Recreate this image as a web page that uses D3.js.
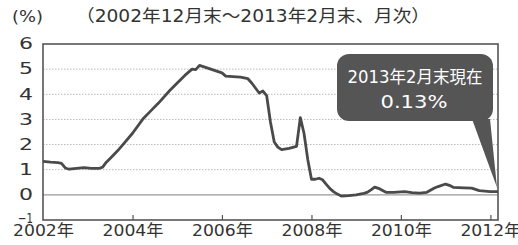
<!DOCTYPE html>
<html>
<head>
<meta charset="utf-8">
<script src="https://cdn.jsdelivr.net/npm/d3@7"></script>
<style>
  body { margin: 0; background: #fff; }
  svg { display: block; }
  text { font-family: "DejaVu Sans", "Noto Sans CJK JP", sans-serif; fill: #333; }
</style>
</head>
<body>
<div id="chart"></div>
<script>
// monthly readings (end of month), %
var dates = ["2002-12","2003-02","2003-04","2003-05","2003-06","2003-07","2003-09","2003-11",
  "2004-01","2004-03","2004-04","2004-05","2004-06","2004-08","2004-10","2004-12",
  "2005-03","2005-05","2005-07","2005-10","2005-12","2006-02","2006-04","2006-05","2006-06",
  "2006-08","2006-10","2006-12","2007-01","2007-03","2007-05","2007-07","2007-08","2007-10",
  "2007-11","2007-12","2008-01","2008-02","2008-03","2008-04","2008-06","2008-08","2008-09",
  "2008-10","2008-11","2008-12","2009-01","2009-02","2009-03","2009-04","2009-05","2009-06",
  "2009-07","2009-08","2009-10","2009-12","2010-02","2010-03","2010-04","2010-05","2010-06",
  "2010-07","2010-08","2010-10","2010-12","2011-01","2011-03","2011-05","2011-07","2011-09",
  "2011-10","2011-12","2012-01","2012-02","2012-05","2012-07","2012-08","2012-09","2012-12","2013-02"];
var values = [1.33,1.30,1.28,1.25,1.07,1.02,1.05,1.08,
  1.05,1.05,1.10,1.30,1.45,1.75,2.10,2.45,
  3.05,3.35,3.65,4.15,4.45,4.75,5.00,4.98,5.15,
  5.05,4.95,4.85,4.72,4.70,4.68,4.62,4.45,4.05,
  4.13,3.95,2.90,2.10,1.90,1.80,1.85,1.93,3.07,
  2.45,1.40,0.62,0.62,0.66,0.60,0.42,0.25,0.12,
  0.03,-0.05,-0.03,0.00,0.06,0.10,0.20,0.31,0.26,
  0.18,0.10,0.10,0.12,0.13,0.09,0.07,0.10,0.27,
  0.33,0.43,0.38,0.30,0.28,0.27,0.22,0.17,0.13,0.13];

var yTicks = [-1, 0, 1, 2, 3, 4, 5, 6];
var xTickDates = ["2002-12","2004-12","2006-12","2008-12","2010-12","2012-12"];
var xTickLabels = ["2002年","2004年","2006年","2008年","2010年","2012年"];
var subtitle = "（2002年12月末〜2013年2月末、月次）";
var unitLabel = "(%)";
var calloutLines = ["2013年2月末現在", "0.13%"];

var W = 518, H = 245;
var margin = { top: 44, right: 20, bottom: 25, left: 43 };
var parse = d3.timeParse("%Y-%m");

var data = dates.map(function(d, i) { return { date: parse(d), value: values[i] }; });

var svg = d3.select("#chart").append("svg")
  .attr("width", W)
  .attr("height", H);

var x = d3.scaleTime()
  .domain([parse(dates[0]), parse(dates[dates.length - 1])])
  .range([margin.left, W - margin.right]);

var y = d3.scaleLinear()
  .domain([-1, 6])
  .range([H - margin.bottom, margin.top]);

// dotted grid
svg.append("g").selectAll("line")
  .data(yTicks.filter(function(v) { return v > 0 && v < 6; }))
  .join("line")
  .attr("x1", margin.left).attr("x2", W - margin.right)
  .attr("y1", function(d) { return y(d); }).attr("y2", function(d) { return y(d); })
  .attr("stroke", "#b8b8b8")
  .attr("stroke-width", 1)
  .attr("stroke-dasharray", "1.5,1.5");

// zero line
svg.append("line")
  .attr("x1", margin.left).attr("x2", W - margin.right)
  .attr("y1", y(0)).attr("y2", y(0))
  .attr("stroke", "#999")
  .attr("stroke-width", 1.2);

// x axis ticks (inside)
var xAxis = d3.axisBottom(x)
  .tickValues(xTickDates.map(parse))
  .tickSizeInner(-5)
  .tickSizeOuter(0)
  .tickPadding(5)
  .tickFormat(function(d, i) { return xTickLabels[i]; });

var gx = svg.append("g")
  .attr("transform", "translate(0," + (H - margin.bottom) + ")")
  .call(xAxis);
gx.select(".domain").remove();
gx.selectAll(".tick line").attr("stroke", "#555").attr("stroke-width", 1.2);
gx.selectAll(".tick").filter(function(d, i) { return i == 0; }).select("line").remove();
gx.selectAll(".tick text")
  .attr("font-size", 16)
  .attr("fill", "#333")
  .attr("dy", "0.7em")
  .attr("textLength", 61)
  .attr("lengthAdjust", "spacingAndGlyphs");

// y axis labels
var yAxis = d3.axisLeft(y)
  .tickValues(yTicks)
  .tickSize(0)
  .tickPadding(10)
  .tickFormat(d3.format("d"));
var gy = svg.append("g")
  .attr("transform", "translate(" + margin.left + ",0)")
  .call(yAxis);
gy.select(".domain").remove();
gy.selectAll(".tick text")
  .attr("font-size", function(d) { return d < 0 ? 14 : 15; })
  .attr("fill", "#333")
  .attr("dy", function(d) { return d < 0 ? "0.2em" : "0.32em"; })
  .attr("textLength", function(d) { return d < 0 ? 15 : 14; })
  .attr("lengthAdjust", "spacingAndGlyphs");

// frame
svg.append("rect")
  .attr("x", margin.left)
  .attr("y", margin.top)
  .attr("width", W - margin.left - margin.right)
  .attr("height", H - margin.top - margin.bottom)
  .attr("fill", "none")
  .attr("stroke", "#555")
  .attr("stroke-width", 1.6);

// series line
var line = d3.line()
  .x(function(d) { return x(d.date); })
  .y(function(d) { return y(d.value); });

svg.append("path")
  .datum(data)
  .attr("d", line)
  .attr("fill", "none")
  .attr("stroke", "#4a4a4a")
  .attr("stroke-width", 2.8)
  .attr("stroke-linejoin", "round");

// callout
var last = data[data.length - 1];
var box = { x: 337, y: 54, w: 156, h: 67 };
svg.append("path")
  .attr("d", "M" + 472 + "," + (box.y + box.h - 2) +
    "L" + (x(last.date) - 1) + "," + (y(last.value) - 4) +
    "L" + 490 + "," + (box.y + box.h - 2) + "Z")
  .attr("fill", "#555");
svg.append("rect")
  .attr("x", box.x).attr("y", box.y)
  .attr("width", box.w).attr("height", box.h)
  .attr("rx", 12)
  .attr("fill", "#555");
svg.append("text")
  .attr("x", box.x + box.w / 2).attr("y", 83)
  .attr("text-anchor", "middle")
  .attr("font-size", 17)
  .attr("textLength", 135)
  .attr("lengthAdjust", "spacingAndGlyphs")
  .style("fill", "#fff")
  .text(calloutLines[0]);
svg.append("text")
  .attr("x", 414).attr("y", 108)
  .attr("text-anchor", "middle")
  .attr("font-size", 17)
  .attr("textLength", 67)
  .attr("lengthAdjust", "spacingAndGlyphs")
  .style("fill", "#fff")
  .text(calloutLines[1]);

// titles
svg.append("text")
  .attr("x", 12).attr("y", 22)
  .attr("font-size", 15)
  .attr("textLength", 31)
  .attr("lengthAdjust", "spacingAndGlyphs")
  .text(unitLabel);
svg.append("text")
  .attr("x", 76).attr("y", 22)
  .attr("font-size", 17)
  .attr("textLength", 354)
  .attr("lengthAdjust", "spacingAndGlyphs")
  .text(subtitle);
</script>
</body>
</html>
